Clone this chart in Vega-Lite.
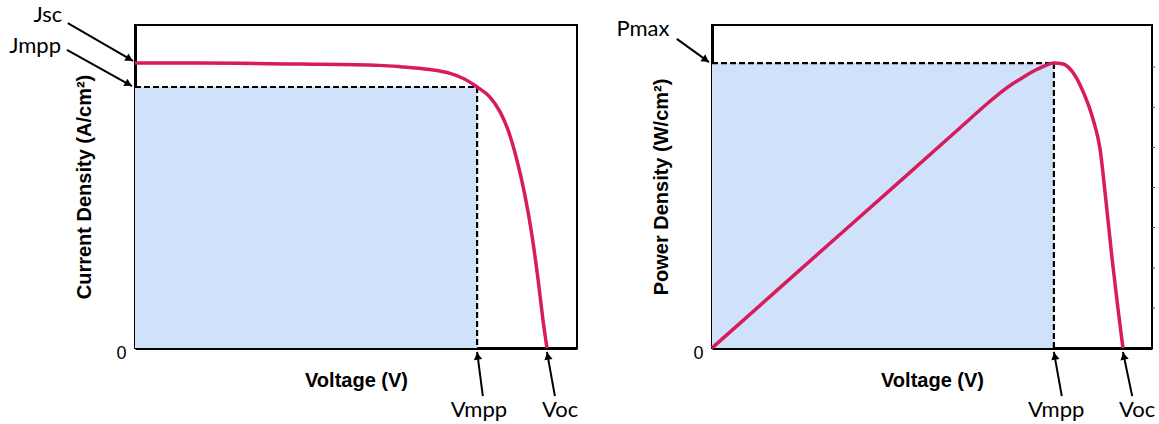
{
  "$schema": "https://vega.github.io/schema/vega-lite/v6.json",
  "padding": {"left": 8, "top": 2, "right": 4, "bottom": 3},
  "background": "white",
  "config": {
    "view": {"stroke": "black", "strokeWidth": 2},
    "axis": {"grid": false, "domainColor": "black", "domainWidth": 3, "ticks": false,
      "labelFont": "Liberation Sans", "labelFontSize": 18, "labelColor": "black",
      "titleFont": "Liberation Sans", "titleFontSize": 20, "titleFontWeight": "bold", "titleColor": "black"},
    "text": {"font": "Lato", "fontSize": 22, "color": "black"}
  },
  "spacing": 35,
  "hconcat": [
    {
      "width": 442, "height": 323,
      "layer": [
        {
          "data": {"values": [{"x": 0, "x2": 0.774, "y": 0, "y2": 0.808}]},
          "mark": {"type": "rect", "color": "#cfe2fa"},
          "encoding": {
            "x": {"field": "x", "type": "quantitative", "scale": {"domain": [0, 1]},
              "axis": {"title": "Voltage (V)", "labels": false, "titlePadding": 22}},
            "x2": {"field": "x2"},
            "y": {"field": "y", "type": "quantitative", "scale": {"domain": [0, 1]},
              "axis": {"title": "Current Density (A/cm²)", "values": [0], "format": "d", "labelFontSize": 18, "labelPadding": 9, "labelOffset": 5, "titlePadding": 21}},
            "y2": {"field": "y2"}
          }
        },
        {
          "data": {"values": [
            {"x": 0, "y": 0.808, "x2": 0.774, "y2": 0.808},
            {"x": 0.774, "y": 0.808, "x2": 0.774, "y2": 0}
          ]},
          "mark": {"type": "rule", "color": "black", "strokeWidth": 2.2, "strokeDash": [6, 3]},
          "encoding": {
            "x": {"field": "x", "type": "quantitative"},
            "x2": {"field": "x2"},
            "y": {"field": "y", "type": "quantitative"},
            "y2": {"field": "y2"}
          }
        },
        {
          "data": {"values": [
            {"x": 0, "y": 0.882}, {"x": 0.147, "y": 0.882}, {"x": 0.373, "y": 0.879},
            {"x": 0.554, "y": 0.875}, {"x": 0.6, "y": 0.871}, {"x": 0.667, "y": 0.862}, {"x": 0.713, "y": 0.85},
            {"x": 0.742, "y": 0.835}, {"x": 0.774, "y": 0.808}, {"x": 0.803, "y": 0.777},
            {"x": 0.826, "y": 0.731}, {"x": 0.844, "y": 0.675}, {"x": 0.864, "y": 0.582},
            {"x": 0.882, "y": 0.474}, {"x": 0.898, "y": 0.35}, {"x": 0.912, "y": 0.211},
            {"x": 0.923, "y": 0.087}, {"x": 0.932, "y": 0}
          ]},
          "mark": {"type": "line", "color": "#d81b5f", "strokeWidth": 3.5, "interpolate": "monotone"},
          "encoding": {
            "x": {"field": "x", "type": "quantitative"},
            "y": {"field": "y", "type": "quantitative"}
          }
        },
        {
          "data": {"values": [
            {"x": -0.152, "y": 1.006, "x2": -0.0045, "y2": 0.889},
            {"x": -0.154, "y": 0.923, "x2": -0.0068, "y2": 0.811},
            {"x": 0.787, "y": -0.149, "x2": 0.774, "y2": -0.012},
            {"x": 0.95, "y": -0.149, "x2": 0.932, "y2": -0.012}
          ]},
          "mark": {"type": "rule", "color": "black", "strokeWidth": 2},
          "encoding": {
            "x": {"field": "x", "type": "quantitative"},
            "x2": {"field": "x2"},
            "y": {"field": "y", "type": "quantitative"},
            "y2": {"field": "y2"}
          }
        },
        {
          "data": {"values": [
            {"x": -0.0124, "y": 0.895, "a": 120},
            {"x": -0.0147, "y": 0.817, "a": 119},
            {"x": 0.775, "y": -0.025, "a": 352},
            {"x": 0.934, "y": -0.025, "a": 350}
          ]},
          "mark": {"type": "point", "shape": "triangle-up", "filled": true, "color": "black", "opacity": 1, "size": 70},
          "encoding": {
            "x": {"field": "x", "type": "quantitative"},
            "y": {"field": "y", "type": "quantitative"},
            "angle": {"field": "a", "type": "quantitative", "scale": null}
          }
        },
        {
          "data": {"values": [
            {"x": -0.197, "y": 1.031, "t": "Jsc"},
            {"x": -0.226, "y": 0.935, "t": "Jmpp"},
            {"x": 0.778, "y": -0.192, "t": "Vmpp"},
            {"x": 0.962, "y": -0.192, "t": "Voc"}
          ]},
          "mark": {"type": "text", "align": "center", "baseline": "middle"},
          "encoding": {
            "x": {"field": "x", "type": "quantitative"},
            "y": {"field": "y", "type": "quantitative"},
            "text": {"field": "t"}
          }
        }
      ]
    },
    {
      "width": 440, "height": 323,
      "layer": [
        {
          "data": {"values": [{"x": 0, "x2": 0.777, "y": 0, "y2": 0.882}]},
          "mark": {"type": "rect", "color": "#cfe2fa"},
          "encoding": {
            "x": {"field": "x", "type": "quantitative", "scale": {"domain": [0, 1]},
              "axis": {"title": "Voltage (V)", "labels": false, "titlePadding": 22}},
            "x2": {"field": "x2"},
            "y": {"field": "y", "type": "quantitative", "scale": {"domain": [0, 1]},
              "axis": {"title": "Power Density (W/cm²)", "values": [0], "format": "d", "labelFontSize": 18, "labelPadding": 9, "labelOffset": 5, "titlePadding": 21}},
            "y2": {"field": "y2"}
          }
        },
        {
          "data": {"values": [
            {"x": 0, "y": 0.882, "x2": 0.777, "y2": 0.882},
            {"x": 0.777, "y": 0.882, "x2": 0.777, "y2": 0}
          ]},
          "mark": {"type": "rule", "color": "black", "strokeWidth": 2.2, "strokeDash": [6, 3]},
          "encoding": {
            "x": {"field": "x", "type": "quantitative"},
            "x2": {"field": "x2"},
            "y": {"field": "y", "type": "quantitative"},
            "y2": {"field": "y2"}
          }
        },
        {
          "data": {"values": [
            {"x": 1, "y": 0.124, "x2": 1.007, "y2": 0.124},
            {"x": 1, "y": 0.248, "x2": 1.007, "y2": 0.248},
            {"x": 1, "y": 0.373, "x2": 1.007, "y2": 0.373},
            {"x": 1, "y": 0.497, "x2": 1.007, "y2": 0.497},
            {"x": 1, "y": 0.621, "x2": 1.007, "y2": 0.621},
            {"x": 1, "y": 0.745, "x2": 1.007, "y2": 0.745},
            {"x": 1, "y": 0.87, "x2": 1.007, "y2": 0.87}
          ]},
          "mark": {"type": "rule", "color": "#555555", "strokeWidth": 1},
          "encoding": {
            "x": {"field": "x", "type": "quantitative"},
            "x2": {"field": "x2"},
            "y": {"field": "y", "type": "quantitative"},
            "y2": {"field": "y2"}
          }
        },
        {
          "data": {"values": [
            {"x": 0, "y": 0}, {"x": 0.2, "y": 0.242}, {"x": 0.427, "y": 0.516},
            {"x": 0.564, "y": 0.682}, {"x": 0.62, "y": 0.75}, {"x": 0.655, "y": 0.79},
            {"x": 0.68, "y": 0.815}, {"x": 0.7, "y": 0.832}, {"x": 0.72, "y": 0.849},
            {"x": 0.739, "y": 0.863}, {"x": 0.76, "y": 0.876}, {"x": 0.777, "y": 0.882},
            {"x": 0.798, "y": 0.879}, {"x": 0.818, "y": 0.857}, {"x": 0.841, "y": 0.801},
            {"x": 0.866, "y": 0.708}, {"x": 0.882, "y": 0.615}, {"x": 0.895, "y": 0.46},
            {"x": 0.909, "y": 0.28}, {"x": 0.923, "y": 0.118}, {"x": 0.934, "y": 0}
          ]},
          "mark": {"type": "line", "color": "#d81b5f", "strokeWidth": 3.5, "interpolate": "monotone"},
          "encoding": {
            "x": {"field": "x", "type": "quantitative"},
            "y": {"field": "y", "type": "quantitative"}
          }
        },
        {
          "data": {"values": [
            {"x": -0.08, "y": 0.957, "x2": -0.0068, "y2": 0.885},
            {"x": 0.795, "y": -0.149, "x2": 0.777, "y2": -0.012},
            {"x": 0.955, "y": -0.149, "x2": 0.934, "y2": -0.012}
          ]},
          "mark": {"type": "rule", "color": "black", "strokeWidth": 2},
          "encoding": {
            "x": {"field": "x", "type": "quantitative"},
            "x2": {"field": "x2"},
            "y": {"field": "y", "type": "quantitative"},
            "y2": {"field": "y2"}
          }
        },
        {
          "data": {"values": [
            {"x": -0.0141, "y": 0.892, "a": 126},
            {"x": 0.779, "y": -0.025, "a": 350},
            {"x": 0.936, "y": -0.025, "a": 348}
          ]},
          "mark": {"type": "point", "shape": "triangle-up", "filled": true, "color": "black", "opacity": 1, "size": 70},
          "encoding": {
            "x": {"field": "x", "type": "quantitative"},
            "y": {"field": "y", "type": "quantitative"},
            "angle": {"field": "a", "type": "quantitative", "scale": null}
          }
        },
        {
          "data": {"values": [
            {"x": -0.157, "y": 0.988, "t": "Pmax"},
            {"x": 0.782, "y": -0.193, "t": "Vmpp"},
            {"x": 0.966, "y": -0.193, "t": "Voc"}
          ]},
          "mark": {"type": "text", "align": "center", "baseline": "middle"},
          "encoding": {
            "x": {"field": "x", "type": "quantitative"},
            "y": {"field": "y", "type": "quantitative"},
            "text": {"field": "t"}
          }
        }
      ]
    }
  ]
}
